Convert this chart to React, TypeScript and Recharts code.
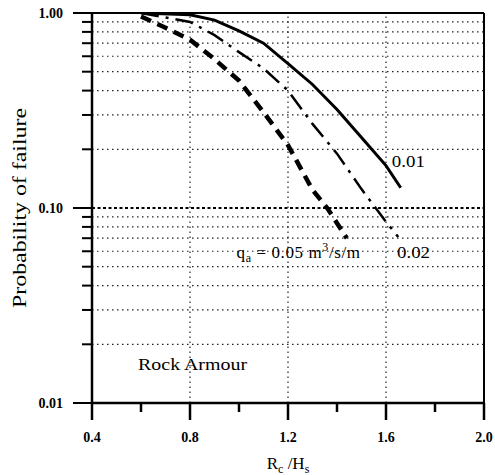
import { LineChart, Line, XAxis, YAxis, ReferenceLine, ReferenceDot } from "recharts";

// overtopping discharge curves: crest freeboard ratio vs probability of failure
const q001 = [
  { x: 0.6, p: 1.0 },
  { x: 0.8, p: 0.98 },
  { x: 0.9, p: 0.92 },
  { x: 1.0, p: 0.81 },
  { x: 1.1, p: 0.7 },
  { x: 1.2, p: 0.55 },
  { x: 1.3, p: 0.43 },
  { x: 1.4, p: 0.32 },
  { x: 1.5, p: 0.23 },
  { x: 1.6, p: 0.165 },
  { x: 1.66, p: 0.127 },
];

const q002 = [
  { x: 0.6, p: 1.0 },
  { x: 0.8, p: 0.9 },
  { x: 0.9, p: 0.77 },
  { x: 1.0, p: 0.63 },
  { x: 1.1, p: 0.52 },
  { x: 1.2, p: 0.4 },
  { x: 1.3, p: 0.27 },
  { x: 1.4, p: 0.19 },
  { x: 1.5, p: 0.125 },
  { x: 1.6, p: 0.085 },
  { x: 1.65, p: 0.071 },
];

const q005 = [
  { x: 0.6, p: 0.96 },
  { x: 0.7, p: 0.84 },
  { x: 0.8, p: 0.73 },
  { x: 0.9, p: 0.58 },
  { x: 1.0, p: 0.45 },
  { x: 1.1, p: 0.31 },
  { x: 1.2, p: 0.21 },
  { x: 1.3, p: 0.124 },
  { x: 1.36, p: 0.1 },
  { x: 1.44, p: 0.07 },
];

const xTicks = [0.4, 0.6, 0.8, 1.0, 1.2, 1.4, 1.6, 1.8, 2.0];
const xMajor = [0.4, 0.8, 1.2, 1.6, 2.0];
const xGrid = [0.8, 1.2, 1.6];

const yMajor = [0.01, 0.1, 1];
const yMinor = [
  0.02, 0.03, 0.04, 0.05, 0.06, 0.07, 0.08, 0.09,
  0.2, 0.3, 0.4, 0.5, 0.6, 0.7, 0.8, 0.9,
];
const yTicks = [...yMajor, ...yMinor].sort((a, b) => a - b);
const yLabels: Record<number, string> = { 0.01: "0.01", 0.1: "0.10", 1: "1.00" };

const serif = { fontFamily: "'Liberation Serif', 'DejaVu Serif', serif" };

function XTick({ x, y, payload }: any) {
  const major = xMajor.includes(payload.value);
  return (
    <g>
      <line x1={x} x2={x} y1={y} y2={y + (major ? 17 : 9)} stroke="#000" strokeWidth={2.5} />
      {major && (
        <text x={x} y={y + 39} textAnchor="middle" style={serif} fontWeight="bold" fontSize={14} fill="#000">
          {payload.value.toFixed(1)}
        </text>
      )}
    </g>
  );
}

function YTick({ x, y, payload }: any) {
  const major = yMajor.includes(payload.value);
  return (
    <g>
      <line x1={x - (major ? 19 : 10)} x2={x} y1={y} y2={y} stroke="#000" strokeWidth={2} />
      {major && (
        <text x={x - 29} y={y + 5} textAnchor="end" style={serif} fontWeight="bold" fontSize={14} fill="#000">
          {yLabels[payload.value]}
        </text>
      )}
    </g>
  );
}

// plain annotation; text is slightly widened like the printed figure
function note(text: string, len: number) {
  return (props: any) => (
    <text
      x={props.cx}
      y={props.cy}
      style={serif}
      fontSize={16}
      fill="#000"
      textLength={len}
      lengthAdjust="spacingAndGlyphs"
    >
      {text}
    </text>
  );
}

function discharge(props: any) {
  return (
    <text x={props.cx} y={props.cy} style={serif} fontSize={17} fill="#000" letterSpacing={0.6}>
      q
      <tspan fontSize={12} dy={4}>a</tspan>
      <tspan dy={-4}> = 0.05 m</tspan>
      <tspan fontSize={12} dy={-7}>3</tspan>
      <tspan dy={7}>/s/m</tspan>
    </text>
  );
}

export default function App() {
  return (
    <div style={{ position: "absolute", left: 0, top: 0, background: "#fff" }}>
      <LineChart width={495} height={475} margin={{ top: 13, right: 11, bottom: 22, left: 0 }}>
        {yMinor.map((v) => (
          <ReferenceLine key={v} y={v} stroke="#222" strokeWidth={1.2} strokeDasharray="1.5 3.5" />
        ))}
        <ReferenceLine y={0.1} stroke="#000" strokeWidth={2} strokeDasharray="3 2.5" />
        {xGrid.map((v) => (
          <ReferenceLine key={v} x={v} stroke="#222" strokeWidth={1.2} strokeDasharray="1.5 3.5" />
        ))}
        <ReferenceLine y={1} stroke="#000" strokeWidth={2} />
        <ReferenceLine x={2} stroke="#000" strokeWidth={2} />
        <XAxis
          type="number"
          dataKey="x"
          domain={[0.4, 2.0]}
          ticks={xTicks}
          interval={0}
          tickSize={0}
          tickMargin={0}
          tickLine={false}
          tick={<XTick />}
          axisLine={{ stroke: "#000", strokeWidth: 2.5 }}
          height={50}
          allowDataOverflow
          label={{
            content: (p: any) => (
              <text
                x={p.viewBox.x + p.viewBox.width / 2}
                y={p.viewBox.y + 66}
                textAnchor="middle"
                style={serif}
                fontSize={17}
                fill="#000"
              >
                R<tspan fontSize={12} dy={4}>c</tspan>
                <tspan dy={-4}> /H</tspan>
                <tspan fontSize={12} dy={4}>s</tspan>
              </text>
            ),
          }}
        />
        <YAxis
          type="number"
          scale="log"
          domain={[0.01, 1]}
          ticks={yTicks}
          interval={0}
          tickSize={0}
          tickMargin={0}
          tickLine={false}
          tick={<YTick />}
          axisLine={{ stroke: "#000", strokeWidth: 2.5 }}
          width={92}
          allowDataOverflow
          label={{
            content: (p: any) => {
              const cx = 20;
              const cy = p.viewBox.y + p.viewBox.height / 2;
              return (
                <text
                  x={cx}
                  y={cy}
                  transform={`rotate(-90, ${cx}, ${cy})`}
                  textAnchor="middle"
                  dominantBaseline="central"
                  style={serif}
                  fontSize={18}
                  fill="#000"
                  textLength={200}
                  lengthAdjust="spacingAndGlyphs"
                >
                  Probability of failure
                </text>
              );
            },
          }}
        />
        <Line
          data={q005}
          dataKey="p"
          type="linear"
          stroke="#000"
          strokeWidth={4.5}
          strokeDasharray="11 7"
          dot={false}
          isAnimationActive={false}
        />
        <Line
          data={q002}
          dataKey="p"
          type="linear"
          stroke="#000"
          strokeWidth={2.5}
          strokeDasharray="18 7 3 7"
          dot={false}
          isAnimationActive={false}
        />
        <Line
          data={q001}
          dataKey="p"
          type="linear"
          stroke="#000"
          strokeWidth={3}
          dot={false}
          isAnimationActive={false}
        />
        <ReferenceDot x={1.624} y={0.162} r={0} ifOverflow="visible" shape={note("0.01", 33)} />
        <ReferenceDot x={1.645} y={0.0554} r={0} ifOverflow="visible" shape={note("0.02", 33)} />
        <ReferenceDot x={0.99} y={0.0554} r={0} ifOverflow="visible" shape={discharge} />
        <ReferenceDot x={0.588} y={0.0148} r={0} ifOverflow="visible" shape={note("Rock Armour", 109)} />
      </LineChart>
    </div>
  );
}
